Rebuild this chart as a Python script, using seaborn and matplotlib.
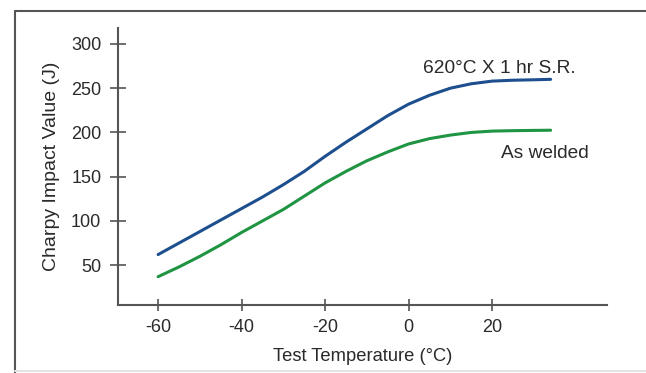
import pandas as pd
import seaborn as sns
import matplotlib.pyplot as plt
from matplotlib.lines import Line2D

# values
temps = [-60, -55, -50, -45, -40, -35, -30, -25, -20, -15, -10, -5, 0, 5, 10, 15, 20, 25, 30, 34]
stress_relieved = [62, 75, 88, 101, 114, 127, 141, 156, 173, 189, 204, 219, 232, 242, 250, 255, 258, 259, 259.5, 260]
as_welded = [37, 48, 60, 73, 87, 100, 113, 128, 143, 156, 168, 178, 187, 193, 197, 200, 201.5, 202, 202.3, 202.5]
x_ticks = [-60, -40, -20, 0, 20]
y_ticks = [50, 100, 150, 200, 250, 300]

data = pd.DataFrame({
    'Temp': temps * 2,
    'Impact': stress_relieved + as_welded,
    'Condition': ['SR'] * len(temps) + ['AW'] * len(temps),
})

sns.set_style('white')
plt.rcParams['font.family'] = ['Liberation Sans', 'DejaVu Sans']
plt.rcParams['axes.unicode_minus'] = False

fig = plt.figure(figsize=(6.46, 3.73), dpi=100)
ax = fig.add_axes([0.1827, 0.1823, 0.7569, 0.7426])

sns.lineplot(data=data, x='Temp', y='Impact', hue='Condition',
             palette={'SR': '#1d4f8e', 'AW': '#1f9443'},
             linewidth=2.2, legend=False, ax=ax)

ax.set_xlim(-69.6, 47.5)
ax.set_ylim(5, 318)
ax.set_xticks(x_ticks)
ax.set_yticks(y_ticks)
ax.tick_params(bottom=True, left=True, direction='inout', width=1.2, color='#555555',
               labelsize=13, labelcolor='#2a2a2a')
ax.tick_params(axis='x', length=8, pad=6)
ax.tick_params(axis='y', length=11, pad=6.5)
for side in ['top', 'right']:
    ax.spines[side].set_visible(False)
for side in ['left', 'bottom']:
    ax.spines[side].set_color('#555555')
    ax.spines[side].set_linewidth(1.5)

ax.set_xlabel('Test Temperature (°C)', fontsize=13.2, color='#2a2a2a', labelpad=9)
ax.set_ylabel('Charpy Impact Value (J)', fontsize=14, color='#2a2a2a', labelpad=8)

ax.text(21.8, 267, '620°C X 1 hr S.R.', fontsize=13.8, color='#2a2a2a',
        ha='center', va='baseline')
ax.text(22, 171, 'As welded', fontsize=13.8, color='#2a2a2a',
        ha='left', va='baseline')

# outer frame of the figure panel
fig.add_artist(Line2D([15/646, 15/646], [0, 1 - 11/373], color='#555555', lw=1.5,
                      transform=fig.transFigure))
fig.add_artist(Line2D([15/646, 1], [1 - 11/373, 1 - 11/373], color='#555555', lw=1.5,
                      transform=fig.transFigure))
fig.add_artist(Line2D([15/646, 1], [1 - 371/373, 1 - 371/373], color='#e4e4e4', lw=1.5,
                      transform=fig.transFigure))

plt.savefig('out.png', dpi=100)
